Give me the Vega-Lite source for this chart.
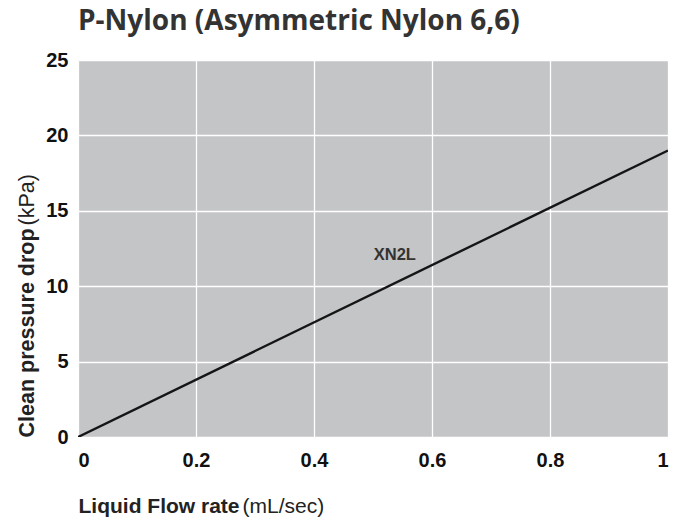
{
  "$schema": "https://vega.github.io/schema/vega-lite/v6.json",
  "width": 590,
  "height": 377,
  "autosize": {"type": "none"},
  "padding": {"left": 78, "top": 60, "right": 17, "bottom": 87},
  "background": "white",
  "title": {
    "text": "P-Nylon (Asymmetric Nylon 6,6)",
    "anchor": "start",
    "frame": "group",
    "font": "Open Sans",
    "fontSize": 28,
    "fontWeight": 700,
    "color": "#333333",
    "offset": 22,
    "baseline": "alphabetic",
    "dy": 30
  },
  "config": {"view": {"fill": "#c4c5c7", "stroke": null}},
  "layer": [
    {
      "data": {"values": [{"flow": 0, "dp": 0}, {"flow": 1, "dp": 19}]},
      "mark": {"type": "line", "color": "#151515", "strokeWidth": 2.4, "clip": true},
      "encoding": {
        "x": {
          "field": "flow",
          "type": "quantitative",
          "scale": {"domain": [0, 1], "nice": false},
          "axis": {
            "orient": "bottom",
            "values": [0, 0.2, 0.4, 0.6, 0.8, 1],
            "format": "~g",
            "labelFont": "Liberation Sans",
            "labelFontWeight": "bold",
            "labelFontSize": 20,
            "labelColor": "#111111",
            "labelPadding": 13,
            "labelFlush": true,
            "ticks": false,
            "domain": false,
            "grid": true,
            "gridColor": "#ffffff",
            "gridWidth": 1.3,
            "title": "Liquid Flow rate",
            "titleFont": "Liberation Sans",
            "titleFontWeight": "bold",
            "titleFontSize": 21,
            "titleColor": "#222222",
            "titleAnchor": "start",
            "titleAlign": "left",
            "titleBaseline": "alphabetic",
            "titleX": 0,
            "titleY": 75
          }
        },
        "y": {
          "field": "dp",
          "type": "quantitative",
          "scale": {"domain": [0, 25], "nice": false},
          "axis": {
            "orient": "left",
            "values": [0, 5, 10, 15, 20, 25],
            "labelFont": "Liberation Sans",
            "labelFontWeight": "bold",
            "labelFontSize": 20,
            "labelColor": "#111111",
            "labelPadding": 10,
            "ticks": false,
            "domain": false,
            "grid": true,
            "gridColor": "#ffffff",
            "gridWidth": 1.3,
            "title": "Clean pressure drop",
            "titleFont": "Liberation Sans",
            "titleFontWeight": "bold",
            "titleFontSize": 21.5,
            "titleColor": "#222222",
            "titleAngle": 270,
            "titleAlign": "left",
            "titleBaseline": "alphabetic",
            "titleX": -45,
            "titleY": 377
          }
        }
      }
    },
    {
      "data": {"values": [{"flow": 0.537, "dp": 12.1, "label": "XN2L"}]},
      "mark": {"type": "text", "font": "Liberation Sans", "fontWeight": "bold", "fontSize": 16.5, "color": "#333333"},
      "encoding": {
        "x": {
          "field": "flow",
          "type": "quantitative",
          "axis": {
            "orient": "top",
            "labels": false,
            "ticks": false,
            "domain": false,
            "grid": false,
            "title": "(mL/sec)",
            "titleFont": "Liberation Sans",
            "titleFontWeight": "normal",
            "titleFontSize": 21,
            "titleColor": "#222222",
            "titleAnchor": "start",
            "titleAlign": "left",
            "titleBaseline": "alphabetic",
            "titleX": 164,
            "titleY": 452
          }
        },
        "y": {
          "field": "dp",
          "type": "quantitative",
          "axis": {
            "orient": "right",
            "labels": false,
            "ticks": false,
            "domain": false,
            "grid": false,
            "title": "(kPa)",
            "titleFont": "Liberation Sans",
            "titleFontWeight": "normal",
            "titleFontSize": 21.5,
            "titleColor": "#222222",
            "titleAngle": 270,
            "titleAlign": "left",
            "titleBaseline": "alphabetic",
            "titleX": -635,
            "titleY": 165
          }
        },
        "text": {"field": "label", "type": "nominal"}
      }
    }
  ],
  "resolve": {"axis": {"x": "independent", "y": "independent"}}
}
